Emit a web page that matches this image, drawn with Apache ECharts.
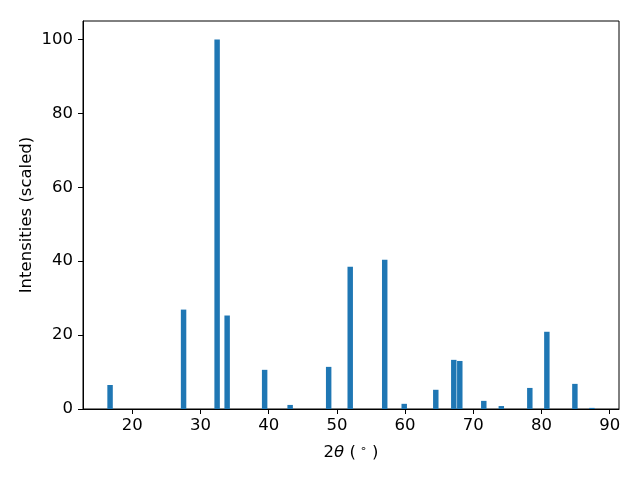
<!DOCTYPE html>
<html>
<head>
<meta charset="utf-8">
<script src="https://cdn.jsdelivr.net/npm/echarts@6/dist/echarts.min.js"></script>
<style>html,body{margin:0;padding:0;background:#fff}#c{width:640px;height:480px}</style>
</head>
<body>
<div id="c"></div>
<script>
const angles = [16.73, 27.51, 32.43, 33.9, 39.4, 43.14, 48.79, 51.95, 57.01, 59.87, 64.5, 67.14, 68.02, 71.54, 74.11, 78.29, 80.79, 84.9, 87.4];
const intensities = [6.5, 26.9, 100, 25.3, 10.6, 1.1, 11.4, 38.5, 40.4, 1.4, 5.2, 13.3, 13.0, 2.2, 0.8, 5.7, 20.9, 6.8, 0.3];
const xTicks = [20, 30, 40, 50, 60, 70, 80, 90];
const yTicks = [0, 20, 40, 60, 80, 100];
const barWidth = 0.8;

const data = angles.map((a, i) => [a, intensities[i]]);
const chart = echarts.init(document.getElementById('c'), null, {renderer: 'canvas'});
const font = 'DejaVu Sans';
const fs = 16.5;
chart.setOption({
  animation: false,
  grid: {left: 83, right: 21, top: 21, bottom: 71, show: true, borderColor: '#000', borderWidth: 1, backgroundColor: 'transparent'},
  xAxis: {
    type: 'value', min: 12.76, max: 91.37,
    axisLine: {show: true, onZero: false, lineStyle: {color: '#000', width: 1}},
    axisTick: {show: true, length: 5, lineStyle: {color: '#000'}, customValues: xTicks},
    axisLabel: {color: '#000', fontSize: fs, fontFamily: font, margin: 8, customValues: xTicks},
    splitLine: {show: false},
    name: '2{i|θ} ({s|∘} )',
    nameLocation: 'middle', nameGap: 35, nameMoveOverlap: false,
    nameTextStyle: {color: '#000', fontSize: fs, fontFamily: font, verticalAlign: 'top',
      rich: {
        i: {fontStyle: 'italic', fontSize: fs, fontFamily: font, color: '#000'},
        s: {fontSize: 11, fontFamily: font, color: '#000', verticalAlign: 'top', padding: [0, 0, 6, 4]}
      }}
  },
  yAxis: {
    type: 'value', min: 0, max: 105,
    axisLine: {show: true, lineStyle: {color: '#000', width: 1}},
    axisTick: {show: true, length: 5, lineStyle: {color: '#000'}, customValues: yTicks},
    axisLabel: {color: '#000', fontSize: fs, fontFamily: font, margin: 10, customValues: yTicks},
    splitLine: {show: false},
    name: 'Intensities (scaled)',
    nameLocation: 'middle', nameGap: 48, nameMoveOverlap: false,
    nameTextStyle: {color: '#000', fontSize: fs, fontFamily: font}
  },
  series: [{
    type: 'custom',
    data: data,
    renderItem: function (params, api) {
      const x = api.value(0), y = api.value(1);
      const p0 = api.coord([x - barWidth / 2, y]);
      const p1 = api.coord([x + barWidth / 2, 0]);
      return {
        type: 'rect',
        shape: {x: p0[0], y: p0[1], width: p1[0] - p0[0], height: p1[1] - p0[1]},
        style: {fill: '#1f77b4'}
      };
    },
    encode: {x: 0, y: 1}
  }]
});
</script>
</body>
</html>
